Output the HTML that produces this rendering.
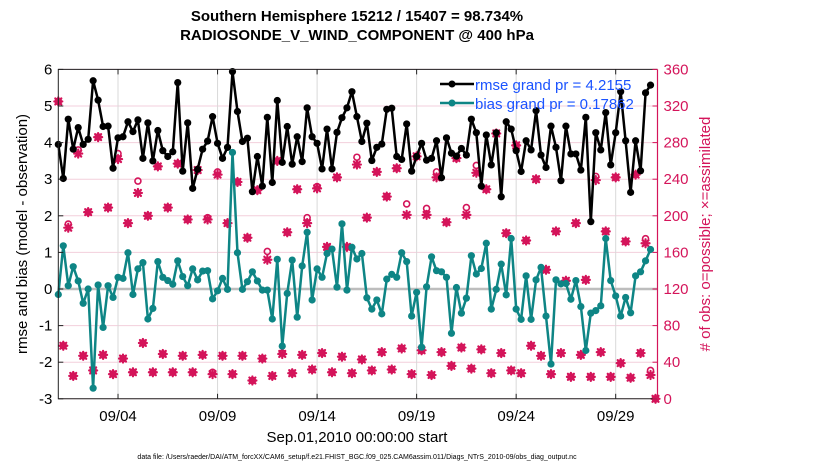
<!DOCTYPE html>
<html><head><meta charset="utf-8"><style>
body{margin:0;background:#fff;}
svg{display:block;font-family:"Liberation Sans",sans-serif;}
</style></head><body>
<svg id="chart" width="830" height="470" viewBox="0 0 830 470">
<text x="357" y="21" text-anchor="middle" font-size="15" font-weight="bold">Southern Hemisphere 15212 / 15407 = 98.734%</text>
<text x="357" y="40" text-anchor="middle" font-size="15" font-weight="bold">RADIOSONDE_V_WIND_COMPONENT @ 400 hPa</text>
<g id="grid"></g>
<g id="marks"></g>
<g id="axes"></g>
<text transform="translate(27,234) rotate(-90)" text-anchor="middle" font-size="15">rmse and bias (model - observation)</text>
<text transform="translate(710,234) rotate(-90)" text-anchor="middle" font-size="15" fill="#d4145a"># of obs: o=possible; ×=assimilated</text>
<text x="357" y="442" text-anchor="middle" font-size="15">Sep.01,2010 00:00:00 start</text>
<text x="357" y="459" text-anchor="middle" font-size="7">data file: /Users/raeder/DAI/ATM_forcXX/CAM6_setup/f.e21.FHIST_BGC.f09_025.CAM6assim.011/Diags_NTrS_2010-09/obs_diag_output.nc</text>
<g>
<line x1="440" y1="84" x2="474" y2="84" stroke="#000" stroke-width="2.5"/>
<circle cx="452" cy="84" r="3.5" fill="#000"/>
<text x="475" y="90" font-size="15" fill="#1a53ff">rmse grand pr = 4.2155</text>
<line x1="440" y1="103" x2="474" y2="103" stroke="#0e8585" stroke-width="2.5"/>
<circle cx="452" cy="103" r="3.5" fill="#0e8585"/>
<text x="475" y="109" font-size="15" fill="#1a53ff">bias grand pr = 0.17862</text>
</g>
</svg>
<script>
const rmse=[3.95,3.02,4.64,3.82,4.41,3.95,4.09,5.69,5.16,4.44,4.45,3.30,4.13,4.16,4.57,4.30,4.62,3.57,4.54,3.50,4.33,3.78,3.62,3.75,5.64,3.22,4.54,2.75,3.27,3.82,4.04,4.71,3.98,3.57,3.87,5.94,4.85,4.03,4.12,2.66,3.62,
2.81,4.69,2.91,5.15,3.46,4.44,3.41,4.16,3.48,4.95,4.16,3.98,3.28,4.37,3.28,4.28,4.68,4.95,5.39,4.71,4.03,4.53,3.51,3.87,3.96,4.91,4.94,3.62,3.54,4.51,3.22,3.62,3.98,3.52,3.57,4.05,3.04,4.13,
3.71,3.63,3.84,3.66,4.64,4.27,2.81,4.21,3.39,4.27,2.52,4.57,4.37,3.78,3.21,4.05,3.80,4.87,3.66,3.32,4.45,3.87,2.96,4.45,3.69,3.69,3.25,4.69,1.84,4.27,3.80,4.82,3.39,4.27,5.39,4.05,2.64,4.05,3.23,5.36,5.57];
const bias=[-0.15,1.18,0.09,0.61,0.22,-0.39,0,-2.71,0.11,-1.05,0.09,-0.23,0.32,0.29,0.99,-0.15,0.55,0.72,-0.82,-0.53,0.75,0.32,0.23,0.13,0.77,0.34,0.09,0.55,0.25,0.49,0.50,-0.27,-0.05,0.29,-0.01,3.73,0.99,-0.01,0.20,0.47,0.22,
-0.03,-0.03,-0.82,0.81,-1.56,-0.12,0.79,-0.77,0.63,1.55,-0.30,0.55,0.32,0.97,1.09,0.05,1.78,-0.03,1.14,0.82,0.97,-0.24,-0.55,-0.30,-0.68,0.27,0.40,0.32,0.99,0.75,-0.74,-0.09,-1.59,0.06,0.88,0.50,0.47,0.32,
-1.21,0.04,-0.66,-0.25,0.91,0.41,0.56,1.25,-0.55,-0.01,0.68,-0.16,1.38,-0.55,-0.83,0.36,-0.83,0.25,0.59,-0.74,-2.05,0.25,0.14,0.15,-0.28,0.23,-0.48,-1.68,-0.66,-0.59,-0.46,1.38,0.23,-0.19,-0.74,-0.23,-0.65,0.36,0.47,0.77,1.08];
const nAssim=[325,58,187,25,268,47,204,31,286,48,209,27,262,44,192,29,225,61,200,29,254,49,209,29,257,47,196,29,250,48,196,27,245,47,192,27,237,47,176,20,228,
44,152,25,260,49,182,28,229,48,192,32,230,50,166,29,242,46,166,28,256,43,198,31,248,51,221,32,252,55,201,27,265,53,201,26,242,51,193,
36,263,56,201,33,247,54,229,28,290,50,181,31,277,28,173,58,240,47,141,27,183,50,129,24,192,48,130,24,239,51,183,24,242,39,172,23,245,50,170,26,0];
const nPoss=[325,58,191,25,272,47,204,31,286,48,209,27,268,44,192,29,238,61,200,29,254,49,209,29,257,47,196,29,250,48,198,29,248,47,192,27,237,47,176,20,228,
44,161,25,260,50,182,28,229,48,198,32,232,50,166,29,242,46,166,28,264,43,198,31,248,51,221,32,252,55,213,27,265,53,208,26,248,51,193,
36,263,56,209,33,255,54,229,28,290,50,181,31,277,28,173,58,240,47,141,27,183,50,129,24,192,48,130,24,243,51,183,24,242,39,172,23,245,50,175,31,0];
const dateTickDays=[3,8,13,18,23,28];
const dateTickLabels=["09/04","09/09","09/14","09/19","09/23","09/29"];
dateTickLabels[4]="09/24";
const leftTicks=[-3,-2,-1,0,1,2,3,4,5,6];
const rightTicks=[0,40,80,120,160,200,240,280,320,360];

const NS="http://www.w3.org/2000/svg";
const X0=58.3,X1=657.5,DMAX=30.1,Y0=398.8,Y1=69.4;
const xDay=d=>X0+d/DMAX*(X1-X0);
const xIdx=i=>xDay(i*0.25);
const yL=v=>Y0-(v+3)/9*(Y0-Y1);
const yR=c=>Y0-c/360*(Y0-Y1);
const MAG="#d4145a",TEAL="#0e8585";
function mk(tag,attrs,parent){const e=document.createElementNS(NS,tag);for(const k in attrs)e.setAttribute(k,attrs[k]);parent.appendChild(e);return e;}
const grid=document.getElementById('grid'),marks=document.getElementById('marks'),axes=document.getElementById('axes');

rightTicks.forEach(c=>{const l=mk('line',{x1:X0,x2:X1,y1:yR(c),y2:yR(c),stroke:'#f3cfdc','stroke-width':1},grid);

});
dateTickDays.forEach(d=>{const l=mk('line',{x1:xDay(d),x2:xDay(d),y1:Y1,y2:Y0,stroke:'#d9d9d9','stroke-width':1},grid);

});
const zl=mk('line',{x1:X0,x2:X1,y1:yL(0),y2:yL(0),stroke:'#bdbdbd','stroke-width':2.5},grid);



// obs counts
function star(x,y,parent){const g=mk('g',{stroke:MAG,'stroke-width':2.2,'stroke-linecap':'round'},parent);
const s=4;mk('line',{x1:x-s,y1:y,x2:x+s,y2:y},g);mk('line',{x1:x,y1:y-s,x2:x,y2:y+s},g);
mk('line',{x1:x-3,y1:y-3,x2:x+3,y2:y+3},g);mk('line',{x1:x-3,y1:y+3,x2:x+3,y2:y-3},g);return g;}
nPoss.forEach((c,i)=>{const o=mk('circle',{cx:xIdx(i),cy:yR(c),r:3,fill:'none',stroke:MAG,'stroke-width':1.6},marks);

});
nAssim.forEach((c,i)=>{const g=star(xIdx(i),yR(c),marks);

});

function series(vals,color,name){
 const pts=vals.map((v,i)=>xIdx(i).toFixed(1)+','+yL(v).toFixed(1)).join(' ');
 const pl=mk('polyline',{points:pts,fill:'none',stroke:color,'stroke-width':2.5,'stroke-linejoin':'round'},marks);
 
 
 vals.forEach((v,i)=>{const c=mk('circle',{cx:xIdx(i),cy:yL(v),r:3.6,fill:color},marks);
 
 });
}
series(bias,TEAL,'bias');
series(rmse,'#000','rmse');

// axes
const f=mk('path',{d:`M${X1},${Y1} H${X0} V${Y0} H${X1}`,fill:'none',stroke:'#222','stroke-width':1},axes);


const ra=mk('line',{x1:X1,x2:X1,y1:Y1,y2:Y0,stroke:MAG,'stroke-width':1.2},axes);


leftTicks.forEach(v=>{mk('line',{x1:X0,x2:X0+5,y1:yL(v),y2:yL(v),stroke:'#222'},axes);
const t=mk('text',{x:X0-6,y:yL(v)+5,'text-anchor':'end','font-size':15},axes);t.textContent=v;

});
rightTicks.forEach(c=>{mk('line',{x1:X1-5,x2:X1,y1:yR(c),y2:yR(c),stroke:MAG},axes);
const t=mk('text',{x:X1+6,y:yR(c)+5,'font-size':15,fill:MAG},axes);t.textContent=c;

});
dateTickDays.forEach((d,k)=>{mk('line',{x1:xDay(d),x2:xDay(d),y1:Y0,y2:Y0-5,stroke:'#222'},axes);
mk('line',{x1:xDay(d),x2:xDay(d),y1:Y1,y2:Y1+5,stroke:'#222'},axes);
const t=mk('text',{x:xDay(d),y:421,'text-anchor':'middle','font-size':15},axes);t.textContent=dateTickLabels[k];

});
</script>
</body></html>
